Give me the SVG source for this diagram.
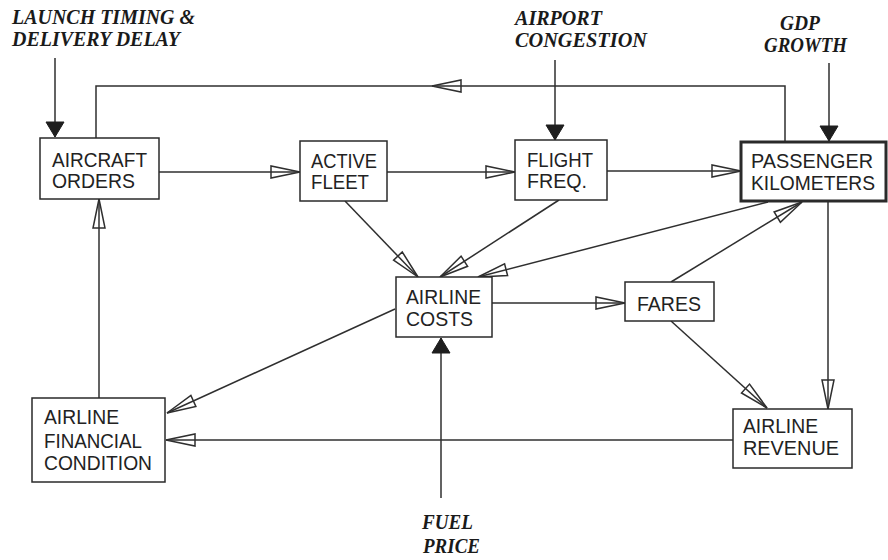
<svg xmlns="http://www.w3.org/2000/svg" width="888" height="560" viewBox="0 0 888 560">
<style>
.box{fill:#fff;stroke:#2a2a2a;stroke-width:1.5}
.thick{stroke-width:3}
.t{font-family:"Liberation Sans",Arial,sans-serif;font-size:21px;fill:#222}
.x{font-family:"Liberation Serif","Times New Roman",serif;font-size:21px;font-weight:bold;font-style:italic;fill:#1a1a1a}
.s{font-size:20px}
.c{fill:none;stroke:#2f2f2f;stroke-width:1.5}
.o{marker-end:url(#open)}
.f{marker-end:url(#solid)}
</style>
<defs>
<marker id="open" viewBox="-31 -8 33 16" refX="0" refY="0" markerWidth="33" markerHeight="16" markerUnits="userSpaceOnUse" orient="auto" overflow="visible">
<path d="M0,0 L-29,-6 L-29,6 Z" fill="none" stroke="#2f2f2f" stroke-width="1.5" stroke-linejoin="miter"/>
</marker>
<marker id="solid" viewBox="-17 -10 19 20" refX="0" refY="0" markerWidth="19" markerHeight="20" markerUnits="userSpaceOnUse" orient="auto" overflow="visible">
<path d="M0,0 L-15,-9 L-15,9 Z" fill="#1e1e1e" stroke="#1e1e1e" stroke-width="1"/>
</marker>
</defs>
<rect width="888" height="560" fill="#fff"/>

<g id="connectors">
<path class="c f" d="M55,58 V137"/>
<path class="c f" d="M555,60 V140"/>
<path class="c f" d="M829,63 V141"/>
<path class="c f" d="M441,498 V338"/>
<path class="c o" d="M785,142 V86 H432"/>
<path class="c" d="M432,86 H96 V138"/>
<path class="c o" d="M159,172 H300"/>
<path class="c o" d="M387,172 H515"/>
<path class="c o" d="M607,171 H741"/>
<path class="c o" d="M345,201 L418,277"/>
<path class="c o" d="M559,200 L440,277"/>
<path class="c o" d="M768,202 L478,277"/>
<path class="c o" d="M671,282 L802,202"/>
<path class="c o" d="M492,303 H625"/>
<path class="c o" d="M671,321 L767,408"/>
<path class="c o" d="M828,202 V409"/>
<path class="c o" d="M733,440 H166"/>
<path class="c o" d="M395,309 L167,413"/>
<path class="c o" d="M99,398 V199"/>
</g>

<g id="launch">
<text class="x s" x="12" y="24" textLength="183" lengthAdjust="spacingAndGlyphs">LAUNCH TIMING &amp;</text>
<text class="x s" x="12" y="46" textLength="168" lengthAdjust="spacingAndGlyphs">DELIVERY DELAY</text>
</g>
<g id="airport">
<text class="x" x="515" y="25" textLength="87" lengthAdjust="spacingAndGlyphs">AIRPORT</text>
<text class="x" x="515" y="47" textLength="132" lengthAdjust="spacingAndGlyphs">CONGESTION</text>
</g>
<g id="gdp">
<text class="x" x="780" y="30" textLength="40" lengthAdjust="spacingAndGlyphs">GDP</text>
<text class="x" x="764" y="52" textLength="83" lengthAdjust="spacingAndGlyphs">GROWTH</text>
</g>
<g id="fuel">
<text class="x" x="422" y="529" textLength="51" lengthAdjust="spacingAndGlyphs">FUEL</text>
<text class="x" x="423" y="553" textLength="57" lengthAdjust="spacingAndGlyphs">PRICE</text>
</g>

<g id="aircraft-orders">
<rect class="box" x="40" y="138" width="119" height="61"/>
<text class="t" x="52" y="167" textLength="95" lengthAdjust="spacingAndGlyphs">AIRCRAFT</text>
<text class="t" x="52" y="188" textLength="83" lengthAdjust="spacingAndGlyphs">ORDERS</text>
</g>
<g id="active-fleet">
<rect class="box" x="300" y="141" width="87" height="60"/>
<text class="t" x="311" y="168" textLength="66" lengthAdjust="spacingAndGlyphs">ACTIVE</text>
<text class="t" x="311" y="189" textLength="58" lengthAdjust="spacingAndGlyphs">FLEET</text>
</g>
<g id="flight-freq">
<rect class="box" x="515" y="140" width="92" height="60"/>
<text class="t" x="527" y="167" textLength="66" lengthAdjust="spacingAndGlyphs">FLIGHT</text>
<text class="t" x="527" y="188" textLength="60" lengthAdjust="spacingAndGlyphs">FREQ.</text>
</g>
<g id="passenger-km">
<rect class="box thick" x="741" y="142" width="145" height="59"/>
<text class="t" x="751" y="168" textLength="122" lengthAdjust="spacingAndGlyphs">PASSENGER</text>
<text class="t" x="751" y="190" textLength="124" lengthAdjust="spacingAndGlyphs">KILOMETERS</text>
</g>
<g id="airline-costs">
<rect class="box" x="396" y="277" width="96" height="60"/>
<text class="t" x="406" y="304" textLength="75" lengthAdjust="spacingAndGlyphs">AIRLINE</text>
<text class="t" x="406" y="326" textLength="67" lengthAdjust="spacingAndGlyphs">COSTS</text>
</g>
<g id="fares">
<rect class="box" x="625" y="282" width="89" height="39"/>
<text class="t" x="637" y="311" textLength="64" lengthAdjust="spacingAndGlyphs">FARES</text>
</g>
<g id="airline-revenue">
<rect class="box" x="733" y="409" width="119" height="59"/>
<text class="t" x="743" y="433" textLength="75" lengthAdjust="spacingAndGlyphs">AIRLINE</text>
<text class="t" x="743" y="455" textLength="96" lengthAdjust="spacingAndGlyphs">REVENUE</text>
</g>
<g id="financial-condition">
<rect class="box" x="32" y="398" width="133" height="84"/>
<text class="t" x="44" y="424" textLength="75" lengthAdjust="spacingAndGlyphs">AIRLINE</text>
<text class="t" x="44" y="448" textLength="98" lengthAdjust="spacingAndGlyphs">FINANCIAL</text>
<text class="t" x="44" y="470" textLength="108" lengthAdjust="spacingAndGlyphs">CONDITION</text>
</g>
</svg>
